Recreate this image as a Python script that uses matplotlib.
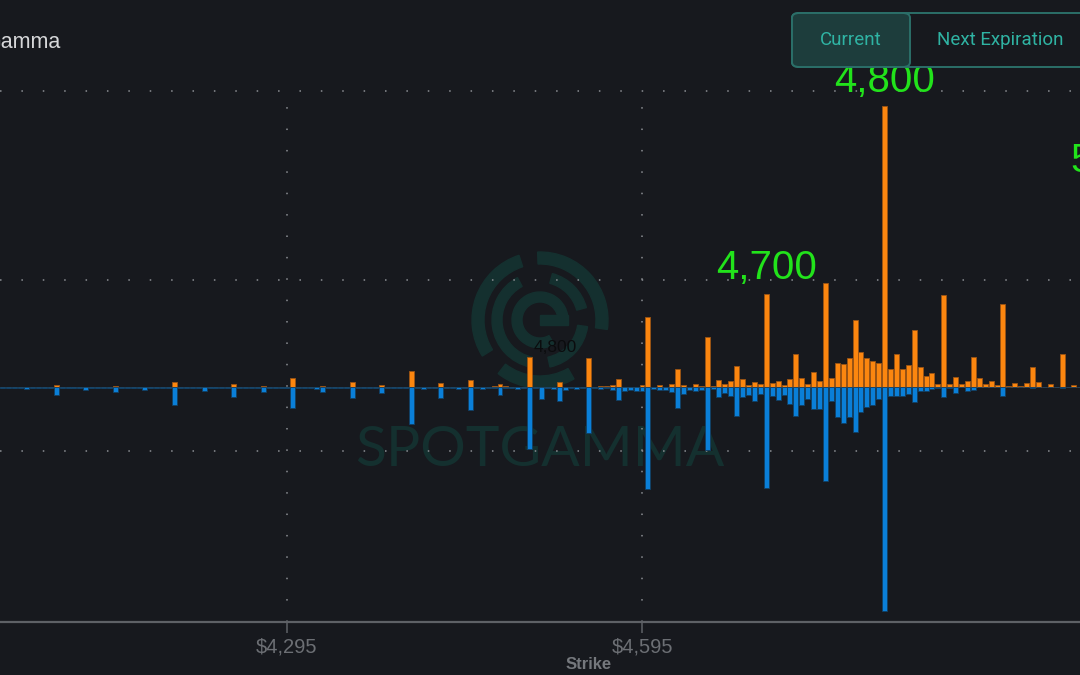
import numpy as np
import matplotlib
matplotlib.use("Agg")
import matplotlib.pyplot as plt
from matplotlib.patches import FancyBboxPatch, Wedge, Rectangle
from matplotlib.transforms import IdentityTransform

# strikes (5 point grid) plus the 5,000 strike that sits just past the right edge
strikes = list(range(4055, 4970, 5)) + [5000]

# call gamma (orange, drawn up) - rows of 10 strikes: 4055-4100, 4105-4150, ...
call_gamma = [
    0, 0, 0, 0, 0, 0, 0, 0, 0, 1.7,
    0, 0, 0, 0, 0, 0, 0, 0, 0, 1,
    0, 0, 0, 0, 0, 0, 0, 0, 0, 4.7,
    0, 0, 0, 0, 0, 0, 0, 0, 0, 3,
    0, 0, 0, 0, 1, 0, 0, 0, 0, 9,
    0, 0, 0, 0, 1.3, 0, 0, 0, 0, 5,
    0, 0, 0, 0, 2.3, 0, 0, 0, 0, 16.3,
    0, 0, 0, 0, 3.7, 0, 0, 0, 0, 7.3,
    0, 0, 0, 1, 3.3, 1, 0, 0, 0, 30,
    0, 0, 0, 0, 5.3, 0, 0, 0, 0, 29.3,
    0, 1, 1, 2, 8, 0, 0, 0, 2.3, 70.3,
    0, 1.7, 0.5, 3.3, 18.3, 2, 0.5, 3.3, 0.7, 49.7,
    0.7, 7.3, 2.7, 5.7, 21.3, 8.3, 2.3, 4.7, 3.3, 93.5,
    3.7, 6, 2.2, 8.5, 33, 9, 3.5, 15.3, 5.7, 104.3,
    9, 24.5, 23, 29.5, 66.7, 35, 29.5, 26.5, 24.5, 280.7,
    18.2, 32.8, 18.2, 22.2, 57, 20.2, 11, 13.7, 3, 92,
    3, 10.5, 2.6, 5.8, 30, 9, 2.6, 6.5, 2.4, 83,
    1, 4, 1, 3.7, 19.8, 4.6, 0.5, 3.3, 0.5, 33.4,
    0.5, 1.6, 0.5,
    201,
]

# put gamma (blue, drawn down)
put_gamma = [
    0.5, 0.5, 0.5, 0.5, 2.3, 0.5, 0.5, 0.5, 0.5, 8.3,
    0.5, 0.5, 0.5, 0.5, 3.3, 0.5, 0.5, 0.5, 0.5, 5,
    0.5, 0.5, 0.5, 0.5, 2.7, 0.5, 0.5, 0.5, 0.5, 18.3,
    0.5, 0.5, 0.5, 0.5, 4, 0.5, 0.5, 0.5, 0.5, 10.3,
    0.5, 0.5, 0.5, 0.5, 5, 0.5, 0.5, 0.5, 0.5, 21,
    0.5, 0.5, 0.5, 1.5, 5, 0.5, 0.5, 0.5, 0.5, 11,
    0.5, 0.5, 0.5, 0.5, 6.3, 0.5, 0.5, 0.5, 0.5, 37.3,
    0.5, 1.5, 0.5, 0.5, 10.7, 0.5, 0.5, 1.5, 0.5, 22.7,
    0.5, 2, 0.5, 1, 8.3, 1, 0.5, 1.5, 0.5, 61.7,
    0.5, 12.3, 0.5, 2, 14, 3, 0.5, 1.5, 0.5, 46.3,
    0.5, 1.5, 1, 3, 13, 4, 3, 3.7, 4, 102.3,
    2, 3, 3, 4.7, 20.7, 7, 3, 4, 3, 63.3,
    2, 10, 5.7, 8.7, 29, 10, 8.3, 13.7, 7.3, 101,
    9, 13, 8.3, 16.7, 28.7, 17.7, 12, 21.7, 21.7, 94.3,
    14.3, 30, 36, 30, 45.3, 24.7, 20.3, 17.7, 12.3, 224.3,
    9.3, 9.3, 9.3, 6.7, 14.7, 4.3, 4.3, 2, 1, 9.5,
    0.5, 5.7, 0.3, 4, 3, 0.3, 0, 0, 0, 8.5,
    0, 0, 0, 0, 1, 0, 0, 0, 0, 1,
    0, 0, 0,
    0,
]

big_strikes = [4700, 4800, 5000]
big_labels = ["4,700", "4,800", "5,000"]
tick_strikes = [4295, 4595]
tick_labels = ["$4,295", "$4,595"]

BG = "#17191e"
ORANGE = "#fb860f"
ORANGE_EDGE = "#9c5414"
BLUE = "#0a7fd8"
BLUE_EDGE = "#123f63"
GRID = "#8c8f94"
WATER = "#14302f"
TEAL = "#2fb3a3"

fig = plt.figure(figsize=(10.8, 6.75), dpi=100)
fig.patch.set_facecolor(BG)
ax = fig.add_axes([0, 53 / 675, 1, 531 / 675])
ax.set_facecolor(BG)

# watermark: SpotGamma logo + wordmark, drawn in pixel coordinates behind the bars
cx, cy = 540, 675 - 320
for r, w, arcs in [(68, 12, [(-8, 92), (108, 212), (232, 300)]),
                   (48, 10, [(15, 75), (118, 258), (282, 352)]),
                   (28, 10, [(10, 300)])]:
    for a0, a1 in arcs:
        ax.add_patch(Wedge((cx, cy), r, a0, a1, width=w, color=WATER,
                           transform=IdentityTransform(), zorder=0.5))
ax.add_patch(Rectangle((cx, cy - 5), 28, 10, color=WATER,
                       transform=IdentityTransform(), zorder=0.5))
ax.text(540 / 1080, 1 - 450 / 675, "SPOTGAMMA", color=WATER, fontsize=41,
        family="Lato", fontweight="normal", ha="center", va="center",
        transform=fig.transFigure, zorder=0.5)

x = np.array(strikes)
ax.bar(x, call_gamma, width=4.2, color=ORANGE, edgecolor=ORANGE_EDGE,
       linewidth=0.6, zorder=3)
ax.bar(x, -np.array(put_gamma), width=4.2, color=BLUE, edgecolor=BLUE_EDGE,
       linewidth=0.6, zorder=3)

ax.set_xlim(4052.5, 4965.1)
ax.set_ylim(-235, 296)

# big strike labels above the bars
for s, lab in zip(big_strikes, big_labels):
    v = call_gamma[strikes.index(s)]
    ax.annotate(lab, (s, v), xytext=(0, 4.5), textcoords="offset points",
                ha="center", va="bottom", color="#22e31b", fontsize=29,
                family="Liberation Sans", zorder=5, annotation_clip=False)
ax.text(4521.5, 40, "4,800", color="#0b0c0e", fontsize=12.5,
        family="Liberation Sans", ha="center", va="center", zorder=2)

# dotted grid
ax.set_yticks([-64, 107, 296])
ax.set_xticks(tick_strikes)
ax.set_xticklabels(tick_labels)
ax.grid(True, color=GRID, linestyle=(0, (1, 13)), linewidth=1.1, zorder=1)
for gl in ax.get_ygridlines() + ax.get_xgridlines():
    gl.set_clip_on(False)
ax.tick_params(axis="y", left=False, labelleft=False)
ax.tick_params(axis="x", colors="#5e6166", length=8, width=1.1, pad=3,
               labelsize=14.5, labelcolor="#6c6f74")
for lab in ax.get_xticklabels():
    lab.set_family("Liberation Sans")
for side in ["top", "left", "right"]:
    ax.spines[side].set_visible(False)
ax.spines["bottom"].set_color("#5e6166")
ax.spines["bottom"].set_linewidth(1.6)
ax.set_xlabel("Strike", color="#75787d", fontsize=12, fontweight="bold",
              family="Liberation Sans")
ax.xaxis.set_label_coords(589 / 1080, -0.066)

# title (cropped at the left edge)
fig.text(61 / 1080, 1 - 42 / 675, "Gamma", color="#d6d7d9", fontsize=15.5,
         family="Liberation Sans", ha="right", va="center")

# expiration toggle buttons
fig.patches.append(FancyBboxPatch((792 / 1080, 1 - 67 / 675), 320 / 1080, 54 / 675,
                                  boxstyle="round,pad=0,rounding_size=0.007",
                                  transform=fig.transFigure, facecolor=BG,
                                  edgecolor="#2b6f69", linewidth=1.4, zorder=4))
fig.patches.append(FancyBboxPatch((792 / 1080, 1 - 67 / 675), 118 / 1080, 54 / 675,
                                  boxstyle="round,pad=0,rounding_size=0.007",
                                  transform=fig.transFigure, facecolor="#1d3d3c",
                                  edgecolor="#2b6f69", linewidth=1.4, zorder=4))
fig.text(851 / 1080, 1 - 40 / 675, "Current", color=TEAL, fontsize=13.5,
         family="Roboto", ha="center", va="center", zorder=5)
fig.text(1000 / 1080, 1 - 40 / 675, "Next Expiration", color=TEAL, fontsize=13.5,
         family="Roboto", ha="center", va="center", zorder=5)

fig.savefig("out.png", dpi=100, facecolor=BG)
